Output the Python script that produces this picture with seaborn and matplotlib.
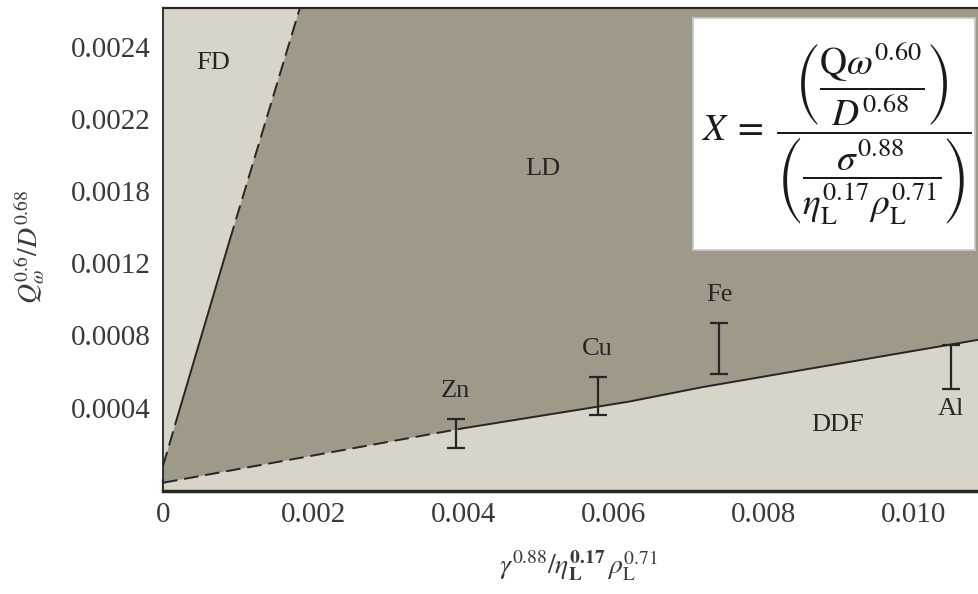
import numpy as np
import matplotlib.pyplot as plt
import seaborn as sns
import pandas as pd

# boundary FD / LD (points where the line style changes)
fd_x = [0.0, 0.00018, 0.00089, 0.00182]
fd_y = [0.000077, 0.000332, 0.00133, 0.00261]

# boundary LD / DDF
low_x = [0.0, 0.0040, 0.0062, 0.0072, 0.0109]
low_y = [-0.000016, 0.000286, 0.000433, 0.000515, 0.000779]

# measured ranges per metal
metals = ['Zn', 'Cu', 'Fe', 'Al']
metal_x = [0.00390, 0.00579, 0.00741, 0.01050]
metal_lo = [0.000175, 0.000360, 0.000587, 0.000502]
metal_hi = [0.000336, 0.000572, 0.000868, 0.000747]

xticks = [0, 0.002, 0.004, 0.006, 0.008, 0.010]
xticklabels = ['0', '0.002', '0.004', '0.006', '0.008', '0.010']
yticks = [0.0004, 0.0008, 0.0012, 0.0016, 0.0020, 0.0024]
yticklabels = ['0.0004', '0.0008', '0.0012', '0.0018', '0.0022', '0.0024']

sns.set_theme(style='ticks')
plt.rcParams['font.family'] = 'serif'
plt.rcParams['font.serif'] = ['Liberation Serif', 'DejaVu Serif']
plt.rcParams['mathtext.fontset'] = 'stix'

W, H = 979, 594
light = '#d8d4c8'
dark = '#9f998a'
ink = '#262626'
XMIN, XMAX = 0.0, 0.01087
YMIN, YMAX = -0.00006, 0.002613

fig = plt.figure(figsize=(W / 100, H / 100), dpi=100)
ax = fig.add_axes([163 / W, 1 - 490.7 / H, (W - 163) / W, (490.7 - 8.3) / H])
ax.set_facecolor(dark)

# light regions: DDF below the lower boundary, FD left of the steep boundary
ax.fill_between(low_x, YMIN - 1, low_y, color=light, lw=0, zorder=1)
slope = (fd_x[-1] - fd_x[0]) / (fd_y[-1] - fd_y[0])
ax.fill_betweenx(fd_y + [YMAX + 1], 0, fd_x + [fd_x[-1] + slope * (YMAX + 1 - fd_y[-1])],
                 color=light, lw=0, zorder=1)
ax.fill_between([XMIN, fd_x[0]], YMIN - 1, fd_y[0], color=light, lw=0, zorder=1)

dash = (0, (7.5, 3.5))
fd = pd.DataFrame({'x': fd_x, 'y': fd_y})
for i, ls in enumerate([dash, '-', dash]):
    sns.lineplot(data=fd.iloc[i:i + 2], x='x', y='y', ax=ax, color=ink, lw=1.4,
                 linestyle=ls, sort=False, estimator=None, zorder=3)

low = pd.DataFrame({'x': low_x, 'y': low_y})
sns.lineplot(data=low.iloc[:2], x='x', y='y', ax=ax, color=ink, lw=1.4, linestyle=dash,
             sort=False, estimator=None, zorder=3)
sns.lineplot(data=low.iloc[1:], x='x', y='y', ax=ax, color=ink, lw=1.4,
             sort=False, estimator=None, zorder=3)

mid = (np.array(metal_lo) + np.array(metal_hi)) / 2
half = (np.array(metal_hi) - np.array(metal_lo)) / 2
ax.errorbar(metal_x, mid, yerr=half, fmt='none', ecolor=ink, elinewidth=1.6,
            capsize=6.8, capthick=1.6, zorder=4)

lab_kw = dict(ha='center', va='center', fontsize=19, color=ink, zorder=5)
for name, x, lo, hi in zip(metals, metal_x, metal_lo, metal_hi):
    if name == 'Al':
        ax.annotate(name, (x, lo), xytext=(0, -14), textcoords='offset points', **lab_kw)
    else:
        ax.annotate(name, (x, hi), xytext=(0, 20), textcoords='offset points', **lab_kw)

ax.text(0.00067, 0.00231, 'FD', **lab_kw)
ax.text(0.00506, 0.00172, 'LD', **lab_kw)
ax.text(0.00899, 0.000304, 'DDF', **lab_kw)

ax.set_xlim(XMIN, XMAX)
ax.set_ylim(YMIN, YMAX)
ax.set_xticks(xticks)
ax.set_xticklabels(xticklabels)
ax.set_xticks([0.001, 0.003, 0.005, 0.007, 0.009], minor=True)
ax.set_yticks(yticks)
ax.set_yticklabels(yticklabels)
ax.tick_params(axis='both', which='both', direction='in', length=9, width=1.6,
               color=ink, labelsize=21, labelcolor='#3a3a3a')
ax.tick_params(axis='x', pad=8)
ax.tick_params(axis='y', pad=9)
ax.set_xlabel('')
ax.set_ylabel('')
for side in ['left', 'top', 'bottom']:
    ax.spines[side].set_color(ink)
ax.spines['bottom'].set_linewidth(2.5)
ax.spines['left'].set_linewidth(1.3)
ax.spines['top'].set_linewidth(1.6)
ax.spines['right'].set_visible(False)

fig.text(578 / W, 1 - 566 / H, r'$\gamma^{0.88}/\eta_{\mathbf{L}}^{\mathbf{0.17}}\,\rho_{\mathrm{L}}^{0.71}$',
         ha='center', va='center', fontsize=20, color='#3a3a3a')
fig.text(30 / W, 1 - 247 / H, r'$Q_{\omega}^{0.6}/D^{0.68}$', rotation=90,
         ha='center', va='center', fontsize=20, color='#3a3a3a')

# formula box
box = fig.add_axes([693 / W, 1 - 250 / H, (975 - 693) / W, (250 - 18) / H])
box.set_facecolor('white')
box.set_xticks([])
box.set_yticks([])
for s in box.spines.values():
    s.set_color('#c8c8c8')
box.text(0.51, 0.5,
         r'$X\;=\;\dfrac{\left(\dfrac{\mathrm{Q}\omega^{0.60}}{D^{0.68}}\right)}'
         r'{\left(\dfrac{\sigma^{0.88}}{\eta_{\mathrm{L}}^{0.17}\rho_{\mathrm{L}}^{0.71}}\right)}$',
         ha='center', va='center', fontsize=27, color='#1a1a1a')

fig.savefig('out.png', dpi=100)
